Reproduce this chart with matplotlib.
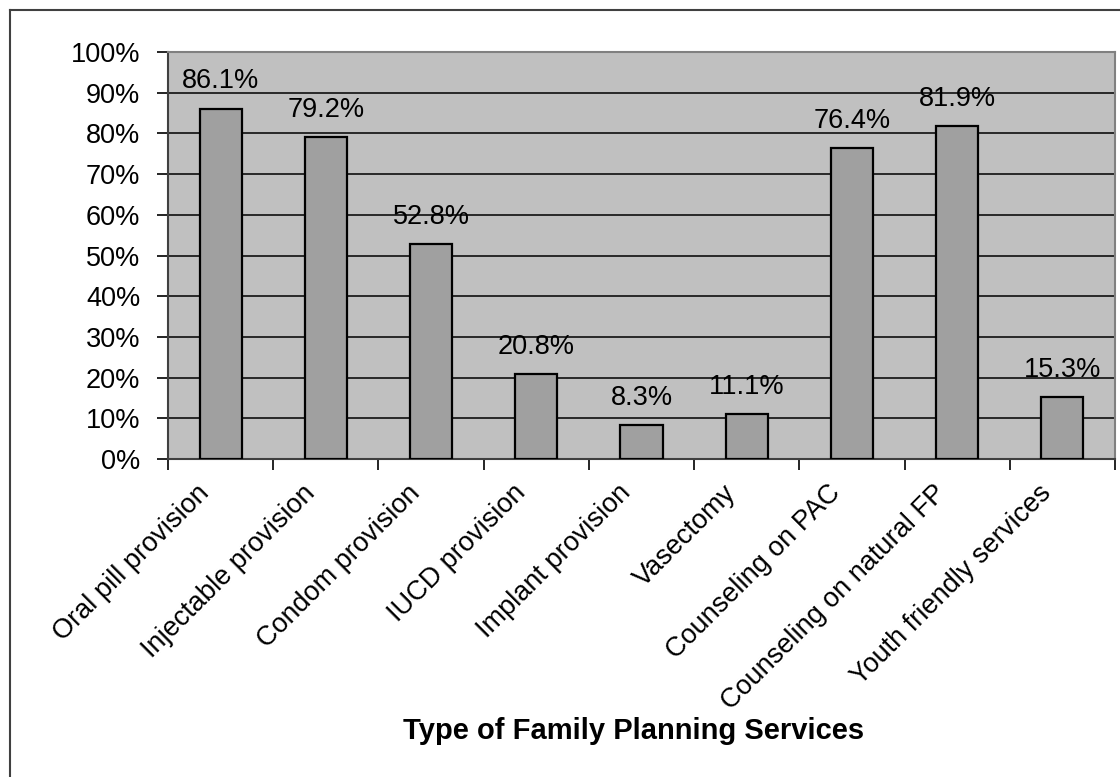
import matplotlib.pyplot as plt
from matplotlib.lines import Line2D
from matplotlib.ticker import FixedLocator

plt.rcParams['font.family'] = ['Liberation Sans', 'DejaVu Sans']

services = ['Oral pill provision', 'Injectable provision', 'Condom provision',
            'IUCD provision', 'Implant provision', 'Vasectomy',
            'Counseling on PAC', 'Counseling on natural FP', 'Youth friendly services']
percent = [86.1, 79.2, 52.8, 20.8, 8.3, 11.1, 76.4, 81.9, 15.3]
y_ticks = list(range(0, 101, 10))

W, H = 1120, 777
fig = plt.figure(figsize=(W / 100, H / 100), dpi=100)
ax = fig.add_axes([168 / W, 1 - 459 / H, (1115 - 168) / W, (459 - 52) / H])
ax.set_facecolor('#c0c0c0')

x = list(range(len(services)))
ax.bar(x, percent, width=0.4, color='#a0a0a0', edgecolor='black', linewidth=1.6, zorder=3)

for xi, v in zip(x, percent):
    ax.annotate(f'{v}%', (xi, v), xytext=(0, 14.5), textcoords='offset points',
                ha='center', va='baseline', fontsize=19.5, zorder=4)

ax.set_xlim(-0.5, len(services) - 0.5)
ax.set_ylim(0, 100)
ax.set_yticks(y_ticks)
ax.set_yticklabels([f'{t}%' for t in y_ticks], fontsize=19.5)
ax.yaxis.grid(True, color='black', linewidth=1.1, zorder=1)

# slanted category names end a little left of each bar centre
ax.set_xticks([i - 0.23 for i in x])
ax.set_xticklabels(services, rotation=45, ha='right', rotation_mode='anchor', fontsize=19.5)
ax.xaxis.set_minor_locator(FixedLocator([i - 0.5 for i in range(len(services) + 1)]))
ax.tick_params(axis='x', which='major', length=0, pad=15)
ax.tick_params(axis='x', which='minor', length=8, width=1.2, direction='out')
ax.tick_params(axis='y', length=8, width=1.2, direction='out', pad=12)

for side in ['top', 'right']:
    ax.spines[side].set_color('#808080')
    ax.spines[side].set_linewidth(1.5)
for side in ['left', 'bottom']:
    ax.spines[side].set_color('#404040')
    ax.spines[side].set_linewidth(1.5)

fig.text(634 / W, 1 - 731 / H, 'Type of Family Planning Services', ha='center', va='center',
         fontsize=21, fontweight='bold')

# chart area frame (left and top edges)
fig.add_artist(Line2D([9.5 / W, 9.5 / W], [0, 1 - 9.5 / H], transform=fig.transFigure,
                      color='#404040', linewidth=1.5))
fig.add_artist(Line2D([9.5 / W, 1], [1 - 9.5 / H, 1 - 9.5 / H], transform=fig.transFigure,
                      color='#404040', linewidth=1.5))

fig.savefig('out.png', dpi=100, facecolor='white')
